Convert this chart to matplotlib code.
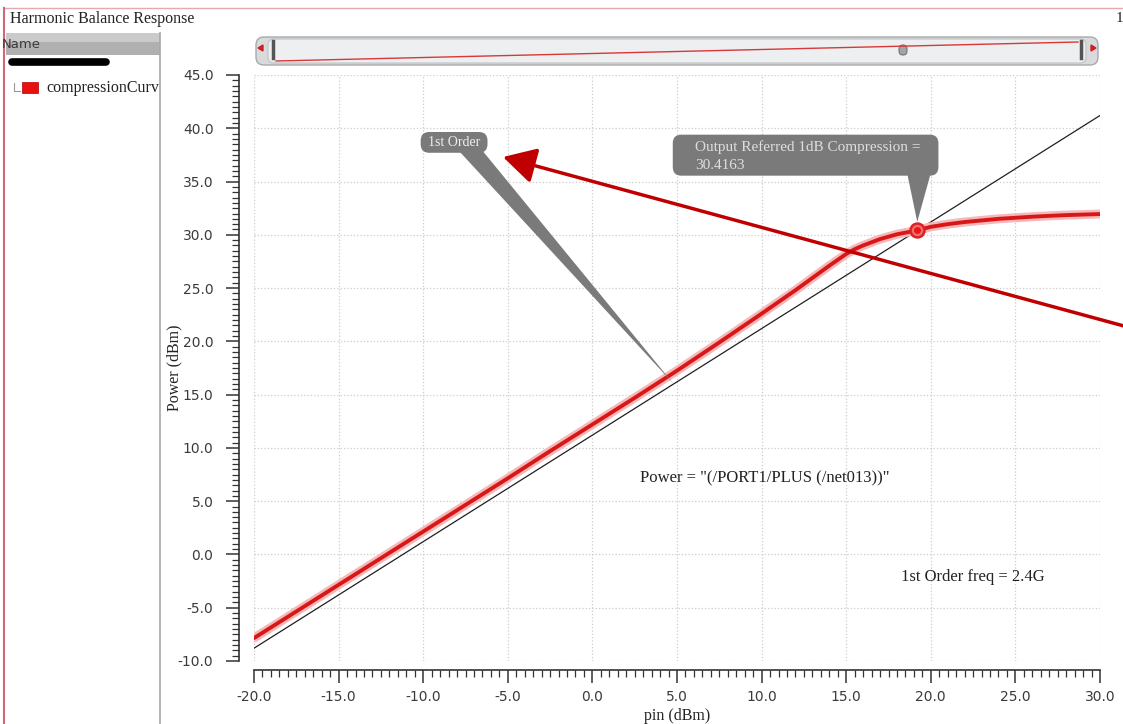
import matplotlib
matplotlib.use('Agg')
import matplotlib.pyplot as plt
from matplotlib.patches import Rectangle, FancyBboxPatch, Polygon
from matplotlib.ticker import MultipleLocator, FormatStrFormatter

# compression curve
pin = [-20, -17.5, -15, -12.5, -10, -7.5, -5, -2.5, 0, 2.5, 5, 7.5, 10, 11, 12,
       13, 14, 15, 15.5, 16, 17, 18, 19.2, 20, 21, 22, 23, 24, 25, 26, 27, 28, 29, 30]
power = [-7.85, -5.35, -2.85, -0.35, 2.15, 4.65, 7.15, 9.7, 12.2, 14.7, 17.25,
         19.9, 22.6, 23.7, 24.8, 25.95, 27.1, 28.2, 28.65, 29.0, 29.6, 30.05, 30.42,
         30.75, 31.0, 31.2, 31.35, 31.5, 31.6, 31.7, 31.78, 31.85, 31.9, 31.95]

# 1st order (linear) extrapolation line
ref_x = [-20, 30]
ref_y = [-8.8, 41.2]

p1db_x = 19.2
p1db_y = 30.4163
first_order_x = 4.8
first_order_y = 4.8 + 11.2

W, H = 1123, 724
SERIF = ['Liberation Serif', 'DejaVu Serif']
SANS = ['DejaVu Sans']

fig = plt.figure(figsize=(W / 100, H / 100), dpi=100)
fig.patch.set_facecolor('white')

# window chrome, pixel coords (y down)
bg = fig.add_axes([0, 0, 1, 1], zorder=0)
bg.set_xlim(0, W)
bg.set_ylim(H, 0)
bg.axis('off')

bg.plot([4, W], [8, 8], color='#e8a8b0', lw=1)
bg.plot([4, 4], [8, H], color='#d06878', lw=1.5)
bg.text(10, 19, 'Harmonic Balance Response', fontsize=11.5, family=SERIF,
        color='#222222', va='center')
bg.text(1116, 19, '1', fontsize=11, family=SERIF, color='#222222', va='center')

# left tree panel
bg.add_patch(Rectangle((6, 33), 154, 22, facecolor='#b0b0b0', edgecolor='none'))
bg.add_patch(Rectangle((6, 33), 154, 9, facecolor='#cacaca', edgecolor='none'))
bg.text(2, 44, 'Name', fontsize=9.5, family=SANS, color='#3a3a3a', va='center')
bg.plot([160, 160], [33, H], color='#a8a8a8', lw=1.2)
bg.plot([12, 106], [62, 62], color='black', lw=5.5, solid_capstyle='round')
bg.plot([14, 14, 20], [83, 91, 91], color='#999999', lw=0.8)
bg.add_patch(Rectangle((22, 82), 16, 11, facecolor='#e81010', edgecolor='#b00000', lw=0.5))
bg.text(46, 87.5, 'compressionCurv', fontsize=11.5, family=SERIF,
        color='#222222', va='center')

# scrollbar overview strip
bg.add_patch(FancyBboxPatch((256, 37), 842, 28, boxstyle='round,pad=0,rounding_size=8',
                            facecolor='#d8dadc', edgecolor='#a8aaac', lw=1))
bg.add_patch(FancyBboxPatch((268, 39), 818, 24, boxstyle='round,pad=0,rounding_size=6',
                            facecolor='#eeeff0', edgecolor='#c0c2c4', lw=0.8))
bg.add_patch(Polygon([[258, 48], [263, 45], [263, 51]], closed=True, color='#d02020'))
bg.add_patch(Polygon([[1096, 48], [1091, 45], [1091, 51]], closed=True, color='#d02020'))
bg.plot([273, 273], [41, 58], color='#555555', lw=2.5)
bg.plot([1081, 1081], [41, 58], color='#555555', lw=2.5)
bg.plot([276, 1078], [61, 42], color='#d83838', lw=1)
bg.add_patch(FancyBboxPatch((899, 45), 8, 10, boxstyle='round,pad=0,rounding_size=4',
                            facecolor='#a0a4a8', edgecolor='#707478', lw=0.8))

# main plot
ax = fig.add_axes([254 / W, 1 - 661 / H, (1100 - 254) / W, (661 - 75) / H], zorder=1)
ax.set_facecolor('white')
ax.set_xlim(-20, 30)
ax.set_ylim(-10, 45)

for s in ['top', 'right']:
    ax.spines[s].set_visible(False)
ax.spines['left'].set_position(('outward', 10.8))
ax.spines['bottom'].set_position(('outward', 6.5))
for s in ['left', 'bottom']:
    ax.spines[s].set_color('#333333')
    ax.spines[s].set_linewidth(1.2)

ax.xaxis.set_major_locator(MultipleLocator(5))
ax.xaxis.set_minor_locator(MultipleLocator(0.5))
ax.yaxis.set_major_locator(MultipleLocator(5))
ax.yaxis.set_minor_locator(MultipleLocator(0.5))
ax.xaxis.set_major_formatter(FormatStrFormatter('%.1f'))
ax.yaxis.set_major_formatter(FormatStrFormatter('%.1f'))
ax.tick_params(which='major', direction='out', length=9.4, width=1.1,
               color='#333333', labelsize=10, labelcolor='#3a3a3a')
ax.tick_params(which='minor', direction='out', length=5, width=0.9, color='#333333')
ax.tick_params(axis='x', which='major', pad=5)
ax.tick_params(axis='y', which='major', pad=9)
for lab in ax.get_xticklabels() + ax.get_yticklabels():
    lab.set_family(SANS)

ax.grid(True, which='major', color='#cccccc', linestyle=':', lw=0.9)
ax.set_axisbelow(True)

ax.set_xlabel('pin (dBm)', fontsize=11.5, family=SERIF, color='#222222', labelpad=3)
ax.set_ylabel('Power (dBm)', fontsize=11.5, family=SERIF, color='#222222', labelpad=-3)

ax.plot(ref_x, ref_y, color='#202020', lw=0.9, zorder=3)
ax.plot(pin, power, color='#f6b8b8', lw=6.5, solid_capstyle='round', zorder=4)
ax.plot(pin, power, color='#d81818', lw=2.8, solid_capstyle='round', zorder=5)
ax.plot(p1db_x, p1db_y, 'o', ms=10, mfc='#f07070', mec='#e02020', mew=1.8, zorder=7)
ax.plot(p1db_x, p1db_y, 'o', ms=5, mfc='#e81818', mec='none', zorder=8)

# callouts
box_c = '#7a7a7a'
ax.add_patch(Polygon([[-7.9, 37.9], [-6.5, 37.9], [first_order_x, first_order_y]],
                     closed=True, facecolor=box_c, edgecolor='none', zorder=6))
ax.add_patch(FancyBboxPatch((-10.15, 37.7), 3.95, 1.95,
                            boxstyle='round,pad=0,rounding_size=0.5',
                            mutation_aspect=1.6, facecolor=box_c, edgecolor='none', zorder=6))
ax.text(-8.2, 38.7, '1st Order', fontsize=10, family=SERIF, color='#eeeeee',
        ha='center', va='center', zorder=7)

ax.add_patch(Polygon([[18.6, 35.8], [20.0, 35.8], [p1db_x, p1db_y + 0.8]],
                     closed=True, facecolor=box_c, edgecolor='none', zorder=6))
ax.add_patch(FancyBboxPatch((4.75, 35.55), 15.7, 3.85,
                            boxstyle='round,pad=0,rounding_size=0.5',
                            mutation_aspect=1.6, facecolor=box_c, edgecolor='none', zorder=6))
ax.text(6.05, 37.4, 'Output Referred 1dB Compression =\n30.4163', fontsize=11,
        family=SERIF, color='#dedede', ha='left', va='center', linespacing=1.45, zorder=7)

ax.text(2.8, 7.1, 'Power = "(/PORT1/PLUS (/net013))"', fontsize=12, family=SERIF,
        color='#222222', ha='left', va='center')
ax.text(18.25, -2.1, '1st Order freq = 2.4G', fontsize=12, family=SERIF,
        color='#222222', ha='left', va='center')

# red arrow overlay
ov = fig.add_axes([0, 0, 1, 1], zorder=10)
ov.set_xlim(0, W)
ov.set_ylim(H, 0)
ov.axis('off')
ov.patch.set_alpha(0)
ov.annotate('', xy=(503, 157), xytext=(1135, 329),
            arrowprops=dict(arrowstyle='-|>,head_length=1.0,head_width=0.55',
                            color='#c00000', lw=2.5, mutation_scale=20,
                            shrinkA=0, shrinkB=0))

fig.savefig('out.png', dpi=100)
